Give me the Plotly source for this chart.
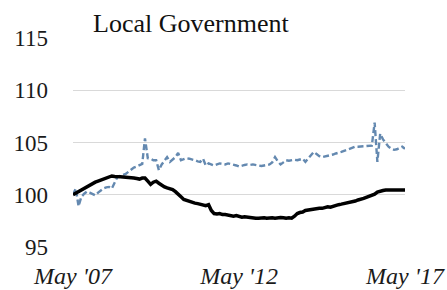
import pandas as pd
import plotly.graph_objects as go

months = pd.date_range("2007-05-01", "2017-05-01", freq="MS")

black_vals = [
    100.0, 100.15, 100.3, 100.5, 100.65, 100.8, 100.95, 101.1, 101.2, 101.3,
    101.4, 101.45, 101.55, 101.7, 101.8, 101.75, 101.7, 101.72, 101.7, 101.68,
    101.7, 101.65, 101.6, 101.55, 101.5, 101.6, 101.6, 101.3, 101.0, 101.2,
    101.3, 101.1, 100.9, 100.75, 100.65, 100.6, 100.5, 100.3, 100.1, 99.8,
    99.55, 99.45, 99.35, 99.3, 99.2, 99.15, 99.1, 99.0, 98.95, 99.05,
    98.5, 98.2, 98.15, 98.2, 98.1, 98.1, 98.05, 98.0, 97.95, 98.0,
    97.9, 97.85, 97.9, 97.85, 97.8, 97.8, 97.75, 97.75, 97.78, 97.8,
    97.75, 97.8, 97.8, 97.75, 97.8, 97.82, 97.8, 97.75, 97.8, 97.75,
    97.95, 98.2, 98.3, 98.35, 98.5, 98.55, 98.6, 98.62, 98.65, 98.7,
    98.7, 98.75, 98.85, 98.8, 98.9, 99.0, 99.05, 99.1, 99.15, 99.2,
    99.3, 99.35, 99.4, 99.5, 99.55, 99.65, 99.75, 99.85, 99.95, 100.05,
    100.25, 100.35, 100.4, 100.45, 100.45, 100.5, 100.45, 100.5, 100.45, 100.5,
    100.45,
]

blue_vals = [
    100.0, 100.6, 98.9, 99.8, 100.1, 100.3, 100.2, 100.1, 99.95, 100.2,
    100.4, 100.6, 100.7, 100.75, 100.6, 101.2, 101.7, 101.8, 101.9, 102.0,
    102.2, 102.4, 102.6, 102.7, 102.85, 102.95, 105.4, 103.5, 103.45, 103.3,
    103.3, 102.35, 102.9, 103.3, 103.6, 103.15, 103.4, 103.6, 104.0, 103.3,
    103.4, 103.5, 103.45, 103.4, 103.3, 103.2, 103.15, 103.45, 102.8, 103.0,
    102.9, 102.8, 102.9, 103.0, 102.95, 102.9, 103.0, 102.95, 102.85, 102.8,
    102.7, 102.8, 102.85, 102.9, 102.85, 102.9, 102.85, 102.8, 102.75, 102.8,
    102.85, 102.9, 103.1, 103.6, 103.2, 102.9, 103.1, 103.3, 103.25, 103.3,
    103.35, 103.3, 103.35, 103.45, 103.15, 103.5, 103.8, 104.1, 103.9, 103.7,
    103.6, 103.65, 103.7, 103.8, 103.85, 103.95, 104.0, 104.1, 104.2, 104.3,
    104.4, 104.5, 104.6, 104.6, 104.62, 104.65, 104.65, 104.65, 104.7, 106.9,
    103.15, 105.85, 105.3, 104.95, 104.6, 104.4, 104.3, 104.35, 104.5, 104.6,
    104.4,
]

x_tick_vals = ["2007-05-01", "2012-05-01", "2017-05-01"]
x_tick_text = ["May '07", "May '12", "May '17"]
y_tick_vals = [95, 100, 105, 110, 115]
title_text = "Local Government"

fig = go.Figure()
fig.add_trace(go.Scatter(
    x=months, y=blue_vals, mode="lines",
    line=dict(color="#6489B0", width=2.4, dash="6px,3px"),
    showlegend=False, hoverinfo="skip",
))
fig.add_trace(go.Scatter(
    x=months, y=black_vals, mode="lines",
    line=dict(color="#000000", width=3.5),
    showlegend=False, hoverinfo="skip",
))

font_family = "Liberation Serif, Times New Roman, serif"

fig.update_layout(
    width=447, height=290,
    margin=dict(l=73, r=42, t=38, b=43, autoexpand=False),
    paper_bgcolor="white", plot_bgcolor="white",
    font=dict(family=font_family, size=22, color="#1A1A1A"),
    xaxis=dict(
        range=["2007-05-01", "2017-05-01"],
        tickvals=x_tick_vals, ticktext=x_tick_text,
        tickfont=dict(family=font_family, size=24, style="italic"),
        showgrid=False, zeroline=False, showline=False,
        ticks="", ticklabelstandoff=12, automargin=False,
    ),
    yaxis=dict(
        range=[95, 115],
        tickvals=y_tick_vals,
        showgrid=True, gridcolor="#D9D9D9", gridwidth=1.2,
        zeroline=False, showline=False, ticks="",
        ticklabelstandoff=24, automargin=False,
        tickfont=dict(family=font_family, size=23),
    ),
    annotations=[dict(
        text=title_text, xref="paper", yref="paper",
        x=(91 - 73) / 332, y=1.0, xanchor="left", yanchor="bottom",
        yshift=-2, showarrow=False,
        font=dict(family=font_family, size=26, color="#111111"),
    )],
)

fig.write_html(
    "out.html",
    config={"displayModeBar": False, "staticPlot": True},
    post_script="document.body.style.margin='0px';document.body.style.overflow='hidden';",
)
